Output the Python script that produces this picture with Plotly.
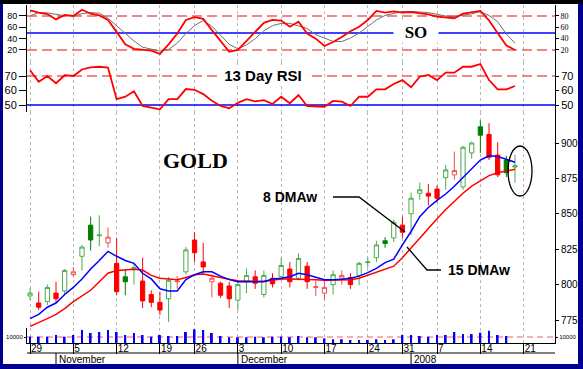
import plotly.graph_objects as go
import pandas as pd

# ---------------- data ----------------
holidays = ["2007-11-22", "2007-12-25", "2008-01-01"]
all_dates = pd.bdate_range("2007-10-29", periods=58, freq="C", holidays=holidays)
n_days = 57

open_ = [792, 787, 788, 794, 795.5, 807, 820, 842, 834.5, 829.5, 815, 805.5, 811, 802.5, 793, 787.5, 790, 802, 809, 831.5,
         816, 802, 801, 799, 789, 802, 805.5, 793, 804.5, 805.5, 811, 804.5, 813, 798, 794, 800, 804.5, 805, 806.5, 815.5,
         819, 831, 833, 842, 850, 864.5, 864.5, 867.5, 875.5, 877.5, 869, 893, 911.5, 906, 891.5, 888, 883]
high = [797.5, 795, 800, 802, 811, 812.5, 828, 848, 849, 840.5, 833, 811, 815, 819, 796, 795, 805.5, 806, 826.5, 837,
        829.5, 807, 802, 802, 803, 811.5, 810, 810, 808, 819, 816, 822, 816, 803, 803, 810, 810, 808, 816, 819,
        831, 833.5, 846, 848, 865, 872, 871, 870, 884.5, 894, 898, 901, 916, 914, 900.5, 891, 891.5]
low = [789, 782, 785.5, 787.5, 793, 805.5, 810, 824, 827, 826, 792.5, 792.5, 800, 783.5, 784, 778.5, 773.5, 797, 807, 816,
       807, 791, 790.5, 783.5, 782, 794, 797, 791, 798, 803, 798, 803, 797, 792, 789, 793, 800, 797, 799.5, 812,
       816, 826, 830, 833, 835, 860, 856, 858, 867, 874, 867, 889, 893, 888, 876, 876, 872]
close = [794, 784, 798, 790, 810, 809, 826.5, 831.5, 835, 833.5, 795, 802, 812, 788.5, 787.5, 782, 803, 802.5, 824.5, 822.5,
         812.5, 804.5, 792.5, 790, 800, 806.5, 801, 806.5, 800.5, 813.5, 802, 818.5, 802, 798.5, 798, 807, 806.5, 800, 815, 816,
         828, 829, 844, 837, 861, 867, 862.5, 861, 881, 880.5, 897, 900, 905.5, 890, 877.5, 879, 884]
ma8 = [776, 779, 784, 787, 793, 798, 804, 811, 817, 823.5, 820, 817, 815, 808, 804, 797, 795.5, 795.5, 803.5, 807,
       809, 809, 806, 803.5, 802, 802, 802, 802, 804, 804.5, 805.6, 808, 807, 805.5, 803.5, 803.5, 803.7, 804.5, 806, 808.5,
       811.5, 815.5, 818, 828, 837.5, 848, 854.5, 859.5, 864, 869.5, 875.5, 882, 888, 891, 890.5, 888.5, 886.4]
ma15 = [770.5, 773, 776, 779, 783, 788, 792, 796, 802, 808, 810, 810.5, 810.8, 810.3, 806.5, 804.5, 804, 803.5, 805, 807,
        807.5, 806.5, 805, 803.8, 802.7, 802.5, 802.4, 802.3, 803, 804, 804, 804, 803.8, 803.5, 803, 803, 803.3, 803.5, 804.5, 806.5,
        808.5, 811, 813, 819, 826, 833, 840, 846.5, 853, 859, 864.5, 869.5, 873.5, 877, 879, 880, 881.4]
so_k = [90, 86, 83.5, 74, 82, 80, 91, 84, 81, 73, 52, 30, 22, 21, 19, 13, 30, 49, 73, 78,
        75, 55, 35, 17, 20, 36, 52, 68, 73, 72, 61, 70, 49, 40, 27, 34, 43, 53, 61, 73,
        89, 86, 88, 86, 87, 85.5, 83, 79, 77, 76, 84, 86.5, 89, 72, 49, 28, 20]
so_d = [80, 86, 85.5, 83, 80.5, 80, 84, 86, 85, 76, 63, 50, 36, 25, 21.5, 18, 21, 32, 49, 63,
        72, 62, 46, 30, 22, 29, 40, 54, 63, 67, 67, 63, 58, 47, 41, 35, 35, 41, 50, 62,
        73, 81, 85, 88, 88, 87, 86, 83, 80, 79, 81, 84, 87.5, 81, 70, 48, 32]
rsi = [74, 66, 70, 65, 70.5, 70, 74.5, 76, 76.4, 75.8, 54, 55.7, 59.5, 49.3, 48.2, 47, 54, 54, 61, 60.5,
       57.5, 53, 49.3, 47.8, 51.5, 54, 52.5, 53.4, 50.7, 55.7, 51.2, 56.9, 49.3, 48.8, 48.8, 52.8, 52.3, 49.3, 55.7, 55.7,
       60.8, 60.8, 64.5, 67.2, 62.2, 69.5, 70.7, 67.2, 72.3, 72.3, 76.4, 76.4, 78.3, 67.2, 60.8, 60.8, 63.1]
volume = [10500, 10500, 10500, 13300, 10500, 13300, 21700, 16700, 18300, 21700, 18300, 13300, 16700, 13300, 10500, 13300,
          11700, 11700, 18300, 22800, 21700, 16700, 11700, 9500, 9500, 9500, 10500, 9500, 10500, 10500, 9500, 11700,
          9500, 9500, 7800, 6200, 6200, 5000, 5000, 5000, 6200, 5000, 6200, 13300, 13300, 11700, 10500, 13300, 13300,
          18300, 15000, 15000, 17200, 20500, 13300, 11700, None]

so_levels = [80, 20]
so_mid = 50
rsi_level = 70
rsi_mid = 50
vol_level = 10000

# ---------------- geometry helpers ----------------
W, H = 583, 369
ML, MR, MT, MB = 27, 28, 5, 26
PW = W - ML - MR
PH = H - MT - MB


def px_x(p):
    return (p - ML) / PW


def px_y(p):
    return (H - MB - p) / PH


x_idx = list(range(n_days))
x_range = [-0.35, 60.62]

# week ticks and month boundaries derived from the trading calendar
week_ticks, week_text = [], []
for i, d in enumerate(all_dates):
    if i == 0 or d.weekday() < all_dates[i - 1].weekday():
        week_ticks.append(i)
        week_text.append(str(d.day))
month_pos, month_text = [], []
for i in range(1, len(all_dates)):
    d = all_dates[i]
    if d.month != all_dates[i - 1].month:
        month_pos.append(i)
        month_text.append(str(d.year) if d.month == 1 else d.strftime("%B"))

# candle styles: hollow if close>open, colour by change vs previous close
groups = {"hg": [], "hr": [], "fg": [], "fr": []}
for i in range(n_days):
    prev = close[i - 1] if i > 0 else open_[i]
    up = close[i] >= prev
    filled = close[i] < open_[i]
    key = ("f" if filled else "h") + ("g" if up else "r")
    groups[key].append(i)

GREEN = "#008000"
LGREEN = "#4DAA4D"
RED = "#FF0000"
LRED = "#F05050"
REFRED = "#F06060"
BLUE = "#0000FF"
SANS = "Liberation Sans"
SERIF = "Liberation Serif"

fig = go.Figure()


def ref_line(level, yaxis, color, dash, width):
    fig.add_trace(go.Scatter(x=x_range, y=[level, level], xaxis="x", yaxis=yaxis, mode="lines",
                             line=dict(color=color, width=width, dash=dash), hoverinfo="skip",
                             showlegend=False))


# SO panel
for lv in so_levels:
    ref_line(lv, "y", REFRED, "10px,5px", 1.3)
ref_line(so_mid, "y", BLUE, "solid", 1.5)
fig.add_trace(go.Scatter(x=x_idx, y=so_d, xaxis="x", yaxis="y2", mode="lines",
                         line=dict(color="#707070", width=1), showlegend=False))
fig.add_trace(go.Scatter(x=x_idx, y=so_k, xaxis="x", yaxis="y2", mode="lines",
                         line=dict(color=RED, width=1.8), showlegend=False))

# RSI panel
ref_line(rsi_level, "y3", REFRED, "10px,5px", 1.3)
ref_line(rsi_mid, "y3", BLUE, "solid", 1.5)
fig.add_trace(go.Scatter(x=x_idx, y=rsi, xaxis="x", yaxis="y4", mode="lines",
                         line=dict(color=RED, width=1.8), showlegend=False))

# main panel: candles
styles = {
    "hg": dict(line=LGREEN, fill="white"),
    "hr": dict(line=LRED, fill="white"),
    "fg": dict(line=GREEN, fill=GREEN),
    "fr": dict(line=RED, fill=RED),
}
for key, idxs in groups.items():
    if not idxs:
        continue
    st = styles[key]
    fig.add_trace(go.Candlestick(
        x=idxs,
        open=[open_[i] for i in idxs], high=[high[i] for i in idxs],
        low=[low[i] for i in idxs], close=[close[i] for i in idxs],
        xaxis="x", yaxis="y6",
        increasing=dict(line=dict(color=st["line"], width=1), fillcolor=st["fill"]),
        decreasing=dict(line=dict(color=st["line"], width=1), fillcolor=st["fill"]),
        showlegend=False, hoverinfo="skip"))

fig.add_trace(go.Scatter(x=x_idx, y=ma15, xaxis="x", yaxis="y6", mode="lines",
                         line=dict(color=RED, width=1.5), showlegend=False))
fig.add_trace(go.Scatter(x=x_idx, y=ma8, xaxis="x", yaxis="y6", mode="lines",
                         line=dict(color=BLUE, width=1.5), showlegend=False))

# volume panel
ref_line(vol_level, "y7", REFRED, "6px,4px", 1)
fig.add_trace(go.Bar(x=x_idx, y=volume, xaxis="x", yaxis="y8", width=0.22,
                     marker=dict(color=BLUE, line=dict(width=0)), showlegend=False))

# ---------------- axes ----------------
d_so = [px_y(62), 1]
d_rsi = [px_y(112), px_y(62)]
d_main = [px_y(328), px_y(112)]
d_vol = [0, px_y(328)]

r_so = [-1.2, 99.4]
r_rsi = [45.17, 79.66]
r_main = [769.35, 921.9]
r_vol = [0, 25000]


def yax(domain, rng, tickvals, font, side="left", overlay=None, grid=False, ticklen=5, ticktext=None):
    d = dict(domain=domain, range=rng, anchor="x", side=side, tickmode="array", tickvals=tickvals,
             showline=True, linecolor="black", linewidth=1, ticks="outside", ticklen=ticklen,
             tickcolor="black", tickwidth=1, zeroline=False, fixedrange=True, tickfont=font,
             showgrid=grid, gridcolor="#B8B8B8", griddash="dot", gridwidth=1)
    if ticktext is not None:
        d["ticktext"] = ticktext
    if overlay:
        d["overlaying"] = overlay
    return d


fig.update_layout(
    width=W, height=H,
    margin=dict(l=ML, r=MR, t=MT, b=MB, pad=0, autoexpand=False),
    paper_bgcolor="#00008C", plot_bgcolor="white",
    showlegend=False,
    xaxis=dict(domain=[0, 1], range=x_range, anchor="y7", tickmode="array", tickvals=week_ticks,
               ticktext=week_text, ticks="outside", ticklen=10, tickcolor="black",
               ticklabelposition="outside right", ticklabelstandoff=-4,
               showline=True, linecolor="black", linewidth=1, showgrid=True, gridcolor="#B8B8B8",
               griddash="dot", gridwidth=1, zeroline=False, fixedrange=True,
               rangeslider=dict(visible=False),
               tickfont=dict(family=SANS, size=10, color="black")),
    yaxis=yax(d_so, r_so, [20, 40, 60, 80], dict(family=SANS, size=9, color="black"), ticklen=7),
    yaxis2=yax(d_so, r_so, [20, 40, 60, 80], dict(family=SERIF, size=8, color="black"), side="right",
               overlay="y", ticklen=3),
    yaxis3=yax(d_rsi, r_rsi, [50, 60, 70], dict(family=SANS, size=11, color="black"), ticklen=7),
    yaxis4=yax(d_rsi, r_rsi, [50, 60, 70], dict(family=SANS, size=11, color="black"), side="right",
               overlay="y3", ticklen=3),
    yaxis5=yax(d_main, r_main, [775, 800, 825, 850, 875, 900], dict(family=SANS, size=10, color="black"),
               grid=True, ticklen=6),
    yaxis6=yax(d_main, r_main, [775, 800, 825, 850, 875, 900], dict(family=SANS, size=10, color="black"),
               side="right", overlay="y5", ticklen=3),
    yaxis7=yax(d_vol, r_vol, [vol_level], dict(family=SANS, size=6, color="black"), ticklen=2,
               ticktext=[str(vol_level)]),
    yaxis8=yax(d_vol, r_vol, [vol_level], dict(family=SANS, size=6, color="black"), side="right",
               overlay="y7", ticklen=2, ticktext=[str(vol_level)]),
)

# ---------------- frame, decorations ----------------
shapes = [
    dict(type="rect", xref="paper", yref="paper", x0=px_x(3), x1=px_x(578), y0=px_y(364), y1=px_y(4),
         fillcolor="white", line=dict(width=0), layer="below"),
    dict(type="rect", xref="paper", yref="paper", x0=px_x(0), x1=px_x(W), y0=px_y(4), y1=px_y(0),
         fillcolor="black", line=dict(width=0), layer="below"),
    # month row separator
    dict(type="line", xref="paper", yref="paper", x0=0, x1=1, y0=px_y(353), y1=px_y(353),
         line=dict(color="black", width=1)),
    # pointers
    dict(type="path", xref="paper", yref="paper",
         path=f"M {px_x(333)},{px_y(197)} L {px_x(359)},{px_y(197)} L {px_x(405)},{px_y(232)}",
         line=dict(color="black", width=1.3)),
    dict(type="path", xref="paper", yref="paper",
         path=f"M {px_x(407)},{px_y(247)} L {px_x(427)},{px_y(270)} L {px_x(441)},{px_y(270)}",
         line=dict(color="black", width=1.3)),
    dict(type="circle", xref="paper", yref="paper", x0=px_x(508), x1=px_x(532), y0=px_y(196),
         y1=px_y(146), line=dict(color="black", width=1.3)),
]
for p in month_pos:
    shapes.append(dict(type="line", xref="x", yref="paper", x0=p, x1=p, y0=px_y(353), y1=px_y(364),
                       line=dict(color="black", width=1)))
fig.update_layout(shapes=shapes)

annotations = [
    dict(text="<b>GOLD</b>", xref="paper", yref="paper", x=px_x(195), y=px_y(160), xanchor="center",
         yanchor="middle", showarrow=False, font=dict(family=SERIF, size=22, color="black")),
    dict(text="<b>SO</b>", xref="paper", yref="paper", x=px_x(416), y=px_y(33), xanchor="center",
         yanchor="middle", showarrow=False, font=dict(family=SERIF, size=17, color="black"),
         bgcolor="white", width=44, borderpad=0),
    dict(text="<b>13 Day RSI</b>", xref="paper", yref="paper", x=px_x(263), y=px_y(76), xanchor="center",
         yanchor="middle", showarrow=False, font=dict(family=SANS, size=15, color="black"),
         bgcolor="white", width=90, borderpad=0),
    dict(text="<b>8 DMAw</b>", xref="paper", yref="paper", x=px_x(261), y=px_y(197), xanchor="left",
         yanchor="middle", showarrow=False, font=dict(family=SANS, size=14, color="black")),
    dict(text="<b>15 DMAw</b>", xref="paper", yref="paper", x=px_x(446), y=px_y(270), xanchor="left",
         yanchor="middle", showarrow=False, font=dict(family=SANS, size=14, color="black")),
]
for p, t in zip(month_pos, month_text):
    annotations.append(dict(text=t, xref="x", yref="paper", x=p, y=px_y(359), xanchor="left",
                            yanchor="middle", xshift=1, showarrow=False,
                            font=dict(family=SANS, size=10, color="black")))
fig.update_layout(annotations=annotations)

fig.write_html("out.html", config={"displayModeBar": False},
               post_script="document.body.style.margin='0';document.body.style.padding='0';")
